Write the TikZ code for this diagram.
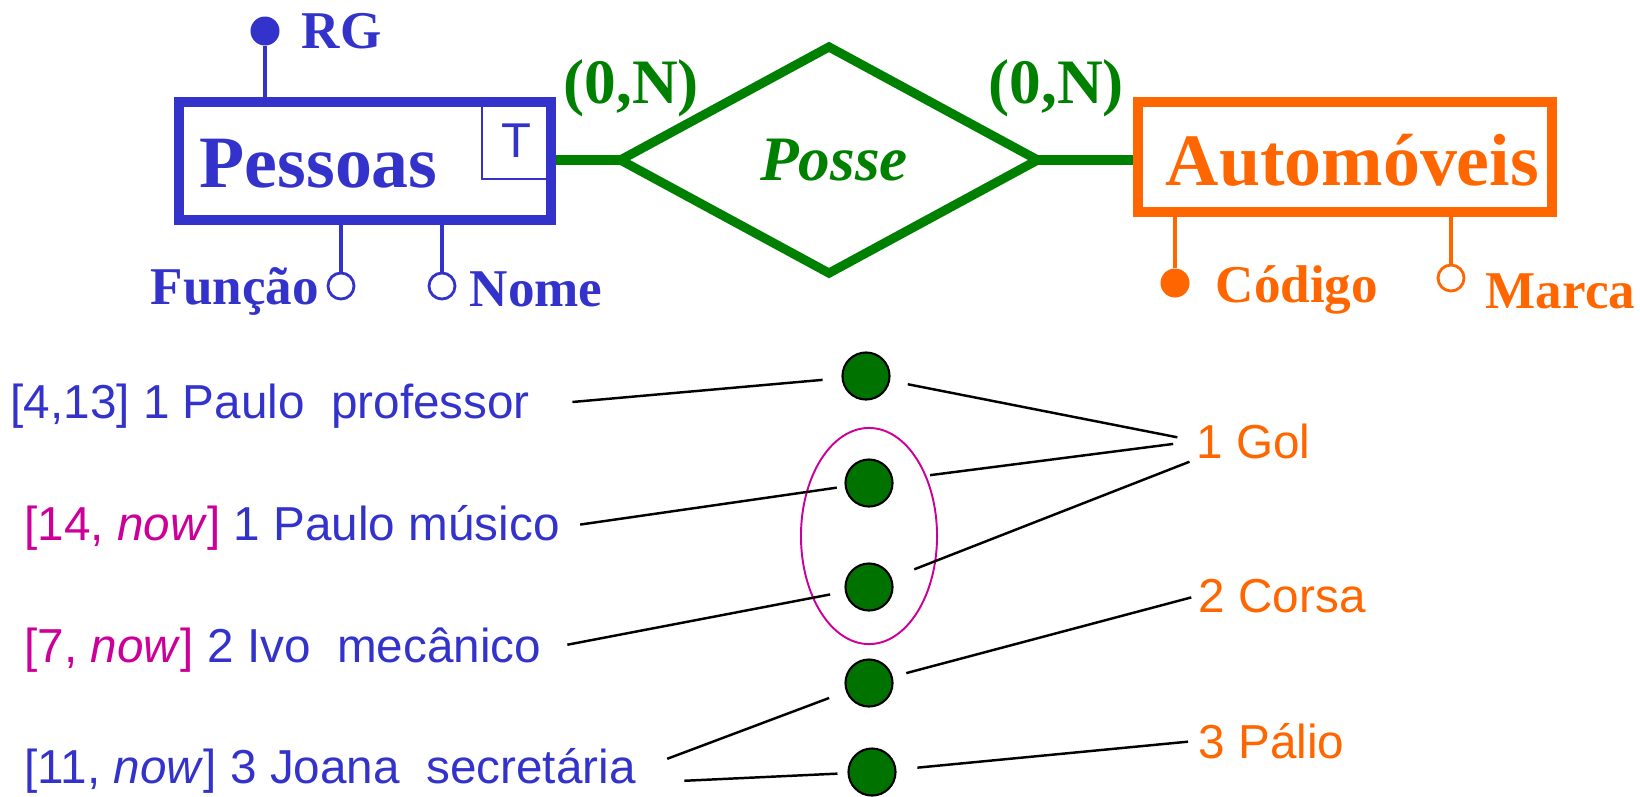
\documentclass[tikz,border=0pt]{standalone}
\usepackage{fontspec}
\setmainfont{Liberation Serif}
\setsansfont{Liberation Sans}
\usepackage{xcolor}
\usetikzlibrary{shapes.geometric}

\definecolor{pblue}{RGB}{51,51,204}
\definecolor{rgreen}{RGB}{0,128,0}
\definecolor{dgreen}{RGB}{0,114,0}
\definecolor{corange}{RGB}{255,102,0}
\definecolor{tmag}{RGB}{204,0,153}

\begin{document}
\begin{tikzpicture}[x=0.01cm,y=-0.01cm,
    entity/.style={draw=#1,line width=2.85pt,inner sep=0pt},
    ename/.style={text=#1,inner sep=0pt,anchor=base west,font=\fontsize{21pt}{24pt}\selectfont\bfseries},
    rel/.style={diamond,draw=rgreen,line width=2.6pt,inner sep=0pt,outer sep=0pt,text=rgreen,font=\fontsize{18pt}{20pt}\selectfont\bfseries\itshape},
    card/.style={text=rgreen,inner sep=0pt,anchor=base west,font=\fontsize{18pt}{20pt}\selectfont\bfseries},
    rline/.style={draw=rgreen,line width=2.8pt},
    keyatt/.style={circle,fill=#1,inner sep=0pt,minimum size=0.29cm},
    att/.style={circle,draw=#1,line width=0.8pt,inner sep=0pt,minimum size=0.26cm},
    attline/.style={draw=#1,line width=0.9pt},
    aname/.style={text=#1,inner sep=0pt,anchor=base west,font=\fontsize{15.1pt}{17pt}\selectfont\bfseries},
    row/.style={text=pblue,inner sep=0pt,anchor=base west,font=\sffamily\fontsize{13.55pt}{16pt}\selectfont},
    car/.style={text=corange,inner sep=0pt,anchor=base west,font=\sffamily\fontsize{13.55pt}{16pt}\selectfont},
    occ/.style={circle,draw=black,fill=dgreen,line width=0.6pt,inner sep=0pt,minimum size=0.47cm},
    link/.style={draw=black,line width=0.7pt}]
\useasboundingbox (0,0) rectangle (1640,796);

% entities and relationship
\node[draw=pblue,line width=0.5pt,minimum width=0.69cm,minimum height=0.77cm,inner sep=0pt,
      text=pblue,font=\sffamily\fontsize{13.9pt}{16pt}\selectfont] (tbox) at (516.5,140.5) {T};
\node[entity=pblue,minimum width=3.72cm,minimum height=1.18cm] (pessoas) at (365,161) {};
\node[ename=pblue] (lpessoas) at (199,187) {Pessoas};
\node[entity=corange,minimum width=4.13cm,minimum height=1.10cm] (autos) at (1345,157) {};
\node[ename=corange] (lautos) at (1165,185) {Automóveis};
\node[rel,minimum width=4.17cm,minimum height=2.26cm] (posse) at (829,160) {\hspace{0.1cm}Posse};
\draw[rline] (posse.west) -- (posse.west -| pessoas.east);
\draw[rline] (posse.east) -- (posse.east -| autos.west);
\node[card] (c1) at (563,103) {(0,N)};
\node[card] (c2) at (988,103) {(0,N)};

% attributes
\node[keyatt=pblue] (rg) at (265,31) {};
\draw[attline=pblue] (rg) -- (rg |- pessoas.north);
\node[aname=pblue] (lrg) at (301,48) {RG};
\node[att=pblue] (funcao) at (341,286) {};
\draw[attline=pblue] (funcao) -- (funcao |- pessoas.south);
\node[aname=pblue] (lfuncao) at (150,304) {Função};
\node[att=pblue] (nome) at (442,286) {};
\draw[attline=pblue] (nome) -- (nome |- pessoas.south);
\node[aname=pblue] (lnome) at (469,306) {Nome};
\node[keyatt=corange] (codigo) at (1175,283) {};
\draw[attline=corange] (codigo) -- (codigo |- autos.south);
\node[aname=corange] (lcodigo) at (1215,302) {Código};
\node[att=corange] (marca) at (1451,278) {};
\draw[attline=corange] (marca) -- (marca |- autos.south);
\node[aname=corange] (lmarca) at (1485,308) {Marca};

% instances
\node[row] (r1) at (10,418) {[4,13] 1 Paulo~~professor};
\node[row] (r2) at (24,540) {{\color{tmag}[14, \textit{now}]} 1 Paulo músico};
\node[row] (r3) at (24,662) {{\color{tmag}[7, \textit{now}]} 2 Ivo~~mecânico};
\node[row] (r4) at (24,783) {[11, \textit{now}] 3 Joana~~secretária};
\node[car] (gol) at (1196,458) {1 Gol};
\node[car] (corsa) at (1198,612) {2 Corsa};
\node[car] (palio) at (1198,758) {3 Pálio};
\foreach \n/\x/\y in {1/866/376,2/869/483,3/869/587,4/869/683,5/872/772}
  \node[occ] (d\n) at (\x,\y) {};
\node[ellipse,draw=tmag,line width=0.55pt,minimum width=1.36cm,minimum height=2.16cm,inner sep=0pt] (grp) at (869,536) {};

\draw[link,shorten <=0.42cm,shorten >=0.19cm] (r1.east) -- (d1);
\draw[link,shorten <=0.2cm,shorten >=0.08cm] (r2.east) -- (d2);
\draw[link,shorten <=0.26cm,shorten >=0.15cm] (r3.east) -- (d3);
\draw[link,shorten <=0.33cm,shorten >=0.18cm] (r4.east) -- (d4);
\draw[link,shorten <=0.48cm,shorten >=0.1cm] (r4.base east) -- (d5);
\draw[link,shorten <=0.18cm,shorten >=0.19cm] (d1) -- (gol.west);
\draw[link,shorten <=0.37cm,shorten >=0.23cm] (d2) -- (gol.west);
\draw[link,shorten <=0.24cm,shorten >=0.07cm] (d3) -- (gol.south west);
\draw[link,shorten <=0.14cm,shorten >=0.07cm] (d4) -- (corsa.west);
\draw[link,shorten <=0.21cm,shorten >=0.1cm] (d5) -- (palio.west);
\end{tikzpicture}
\end{document}
